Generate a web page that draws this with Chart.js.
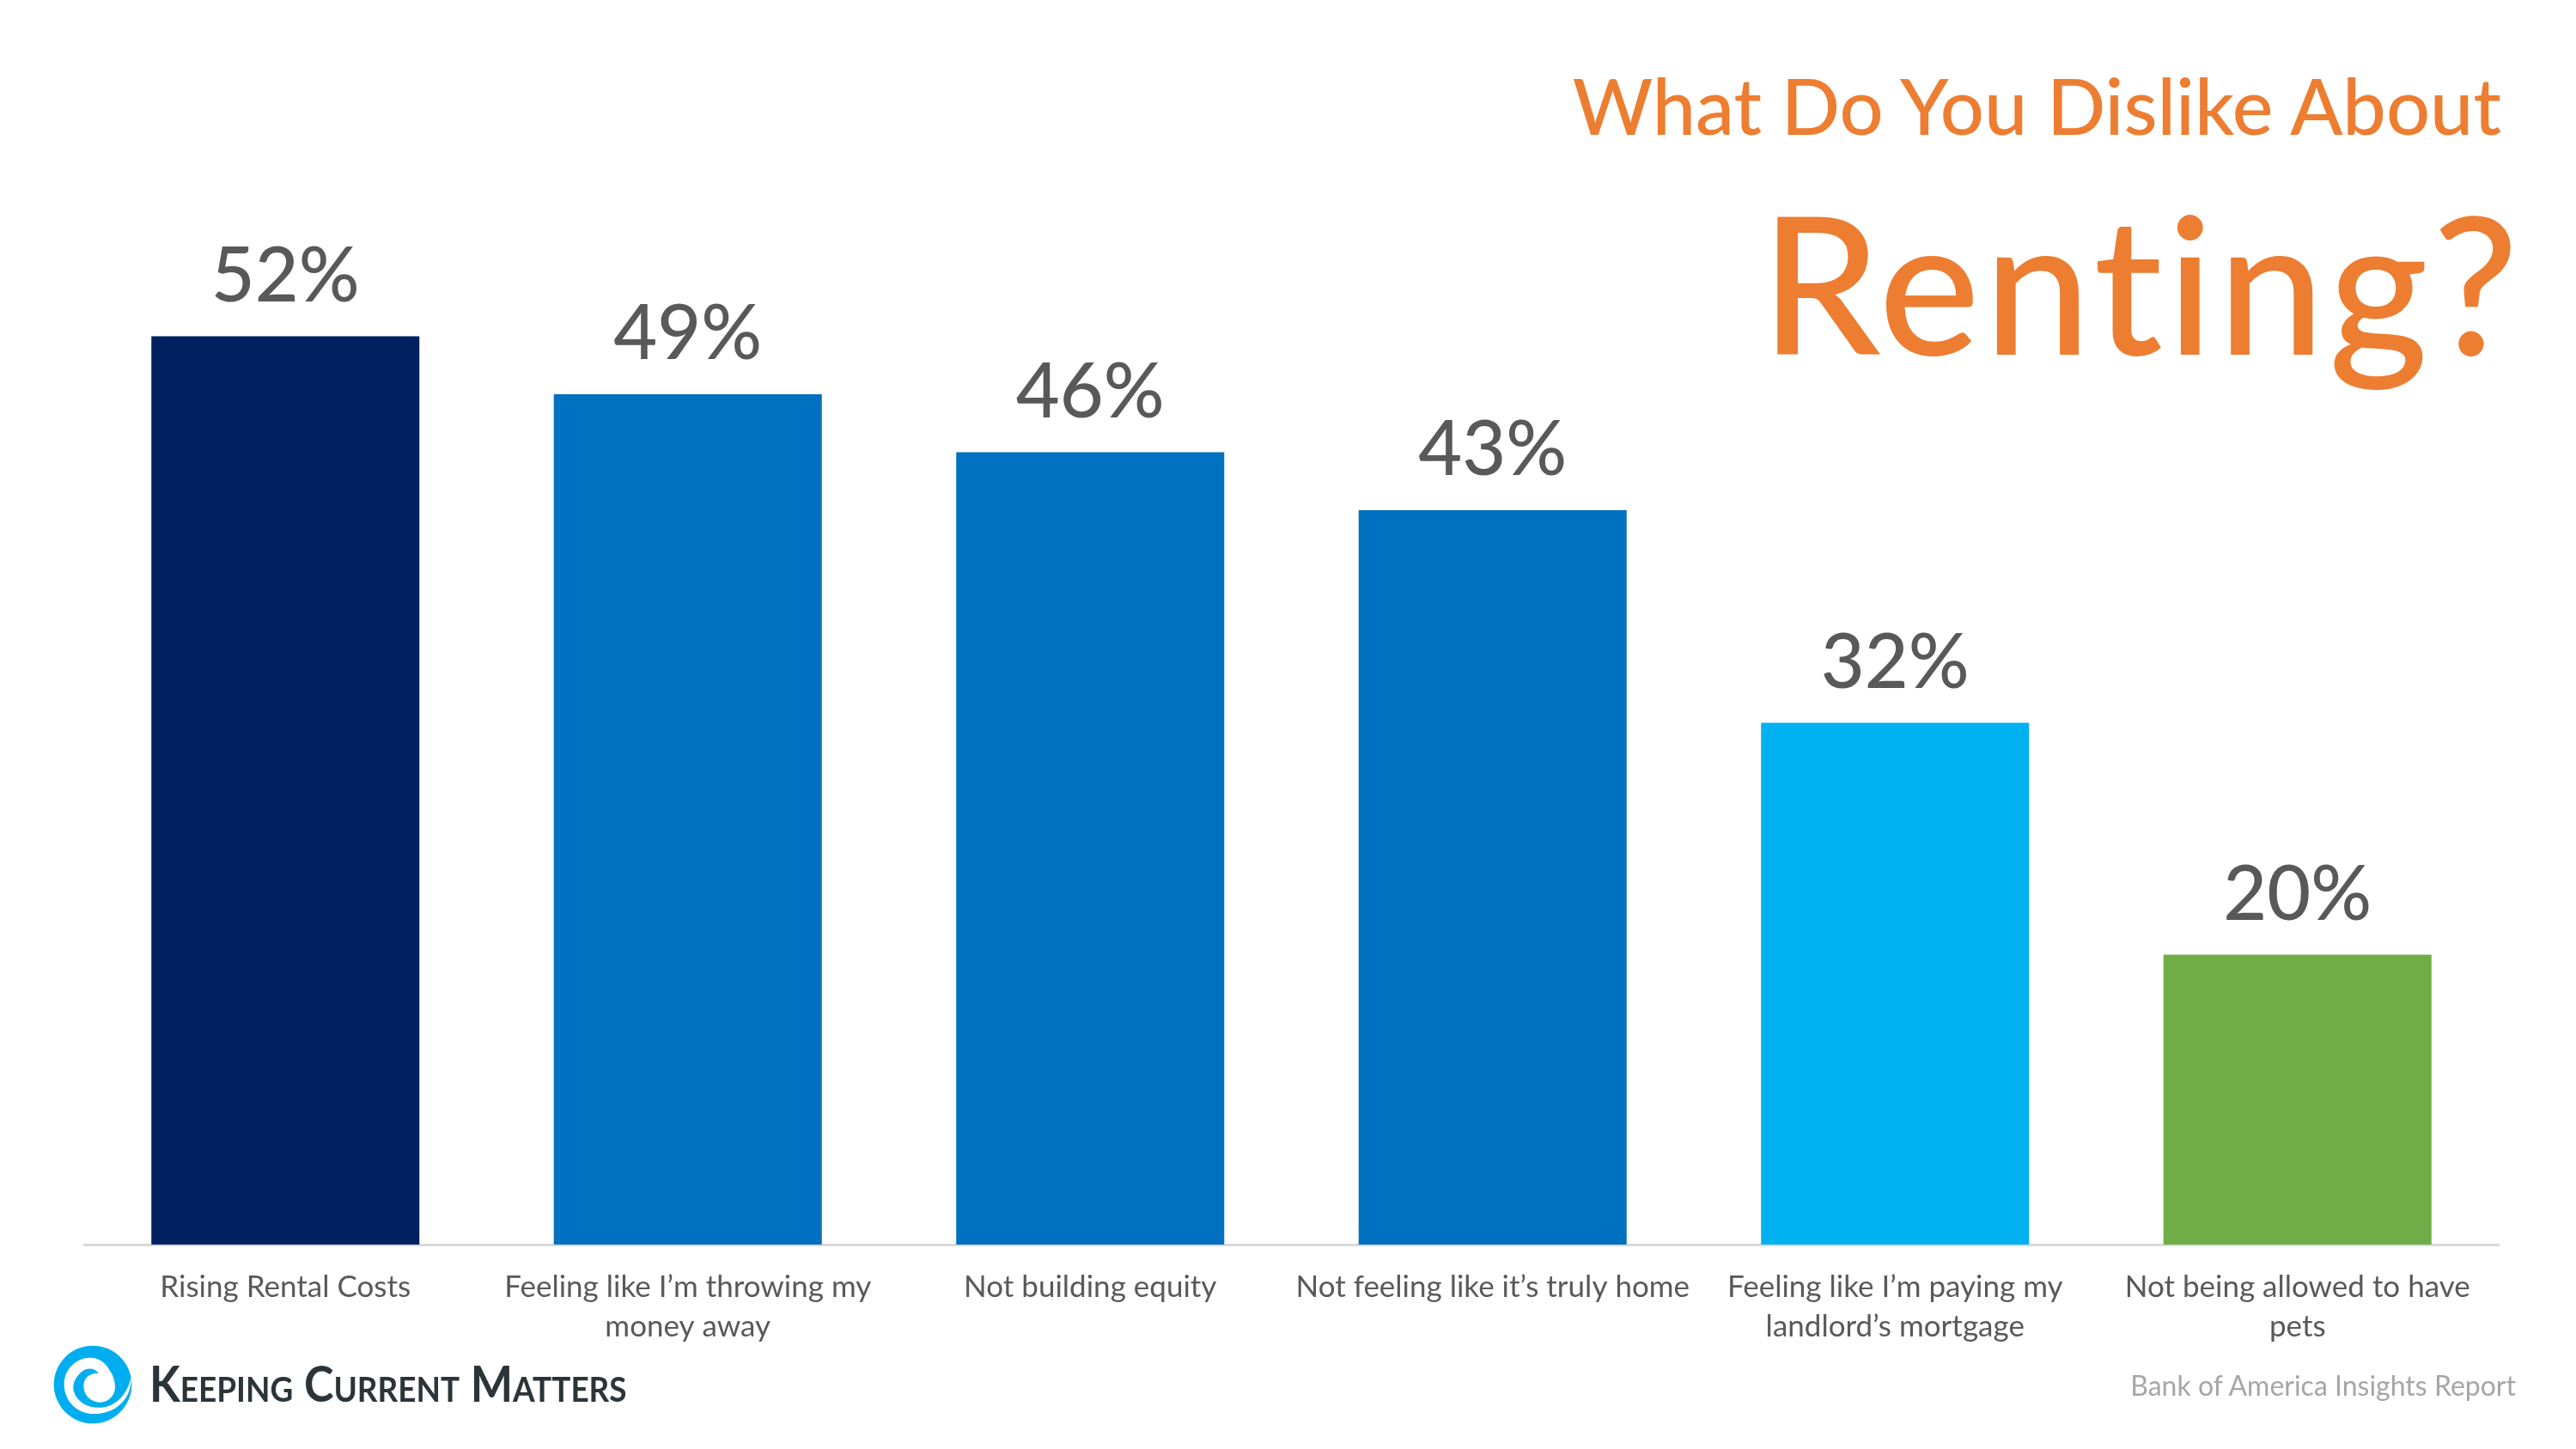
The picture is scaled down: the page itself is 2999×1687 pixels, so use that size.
<!DOCTYPE html>
<html>
<head>
<meta charset="utf-8">
<title>What Do You Dislike About Renting?</title>
<script src="https://cdn.jsdelivr.net/npm/chart.js@4/dist/chart.umd.min.js"></script>
<style>
  html, body { margin: 0; padding: 0; background: #fff; overflow: hidden; }
  #wrap { position: relative; width: 2999px; height: 1687px; font-family: Lato, sans-serif; font-variant-ligatures: none; }
  #wrap canvas { position: absolute; left: 0; top: 0; }
  .txt { position: absolute; white-space: nowrap; line-height: 1; }
  #sub { right: 87px; top: 77px; font-size: 90px; font-weight: 500; color: #ED7D31; }
  #big { right: 62px; top: 216px; font-size: 222px; font-weight: 500; letter-spacing: 5px; color: #ED7D31; }
  #src { right: 70px; top: 1597px; font-size: 32px; color: #A6A6A6; }
  #brand { left: 174px; top: 1581px; font-size: 58px; font-weight: 700; font-variant: small-caps; color: #2B3539; transform: scaleX(0.9); transform-origin: left top; }
  #logo { position: absolute; left: 40px; top: 1560px; }
</style>
</head>
<body>
<div id="wrap">
  <canvas id="grafico" width="2999" height="1687"></canvas>
  <div class="txt" id="sub">What Do You Dislike About</div>
  <div class="txt" id="big">Renting?</div>
  <div class="txt" id="src">Bank of America Insights Report</div>
  <svg id="logo" width="130" height="110" viewBox="0 0 390 330">
    <circle cx="204" cy="156" r="136" fill="#00AEEF"/>
    <path d="M338 128 C342 205 285 258 208 258 C145 258 104 210 104 155 C104 100 148 62 195 62 C225 62 250 80 262 105 C275 122 282 145 282 165 C282 195 258 218 230 218 C198 218 172 195 172 160 C172 135 190 115 225 116 C210 100 190 95 170 108 C145 125 130 155 138 180 C150 222 195 240 235 236 C280 232 325 195 338 128 Z" fill="#fff"/>
  </svg>
  <div class="txt" id="brand">Keeping Current Matters</div>
</div>
<script>
// datos del grafico
const categorias = [
  'Rising Rental Costs',
  ['Feeling like I’m throwing my', 'money away'],
  'Not building equity',
  'Not feeling like it’s truly home',
  ['Feeling like I’m paying my', 'landlord’s mortgage'],
  ['Not being allowed to have', 'pets']
];
const valores = [52, 49, 46, 43, 32, 20];
const colores = ['#002060', '#0070C0', '#0070C0', '#0070C0', '#00B0F0', '#70AD47'];

// porcentaje encima de cada barra
const etiquetas = {
  id: 'etiquetas',
  afterDatasetsDraw(chart) {
    const ctx = chart.ctx;
    ctx.save();
    ctx.font = '500 88px Lato, sans-serif';
    ctx.fillStyle = '#595959';
    ctx.textAlign = 'center';
    ctx.textBaseline = 'alphabetic';
    chart.getDatasetMeta(0).data.forEach((bar, i) => {
      ctx.fillText(valores[i] + '%', bar.x, bar.y - 41);
    });
    ctx.restore();
  }
};

new Chart(document.getElementById('grafico').getContext('2d'), {
  type: 'bar',
  data: {
    labels: categorias,
    datasets: [{
      data: valores,
      backgroundColor: colores,
      borderWidth: 0,
      categoryPercentage: 1,
      barPercentage: 0.666
    }]
  },
  options: {
    responsive: false,
    animation: false,
    devicePixelRatio: 1,
    layout: { padding: { left: 98, right: 90, top: 99, bottom: 0 } },
    plugins: { legend: { display: false }, title: { display: false }, tooltip: { enabled: false } },
    scales: {
      x: {
        grid: { display: false, drawTicks: false },
        border: { color: '#D9D9D9', width: 3 },
        afterFit(scale) { scale.height = 238; },
        ticks: {
          autoSkip: false,
          maxRotation: 0,
          padding: 27,
          color: '#595959',
          font: { family: 'Lato, sans-serif', size: 35, lineHeight: 1.31 }
        }
      },
      y: { display: false, min: 5, max: 65 }
    }
  },
  plugins: [etiquetas]
});
</script>
</body>
</html>
